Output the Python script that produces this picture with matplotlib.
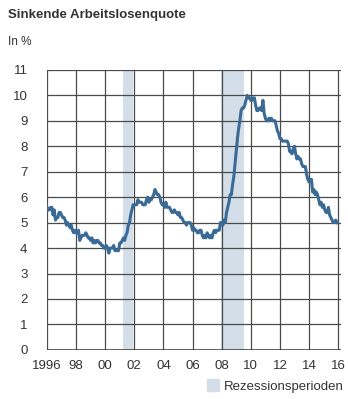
import numpy as np
import matplotlib.pyplot as plt

plt.rcParams['font.family'] = ['Liberation Sans', 'DejaVu Sans']

# monthly unemployment rate, Jan 1996 - Dec 2015
rate = [
    5.6, 5.5, 5.5, 5.6, 5.6, 5.3, 5.5, 5.1, 5.2, 5.2, 5.4, 5.4,
    5.3, 5.2, 5.2, 5.1, 4.9, 5.0, 4.9, 4.8, 4.9, 4.7, 4.6, 4.7,
    4.6, 4.6, 4.7, 4.3, 4.4, 4.5, 4.5, 4.5, 4.6, 4.5, 4.4, 4.4,
    4.3, 4.4, 4.2, 4.3, 4.2, 4.3, 4.3, 4.2, 4.2, 4.1, 4.1, 4.0,
    4.0, 4.1, 4.0, 3.8, 4.0, 4.0, 4.0, 4.1, 3.9, 3.9, 3.9, 3.9,
    4.2, 4.2, 4.3, 4.4, 4.3, 4.5, 4.6, 4.9, 5.0, 5.3, 5.5, 5.7,
    5.7, 5.7, 5.7, 5.9, 5.8, 5.8, 5.8, 5.7, 5.7, 5.7, 5.9, 6.0,
    5.8, 5.9, 5.9, 6.0, 6.1, 6.3, 6.2, 6.1, 6.1, 6.0, 5.8, 5.7,
    5.7, 5.6, 5.8, 5.6, 5.6, 5.6, 5.5, 5.4, 5.4, 5.5, 5.4, 5.4,
    5.3, 5.4, 5.2, 5.2, 5.1, 5.0, 5.0, 4.9, 5.0, 5.0, 5.0, 4.9,
    4.7, 4.8, 4.7, 4.7, 4.6, 4.6, 4.7, 4.7, 4.5, 4.4, 4.5, 4.4,
    4.6, 4.5, 4.4, 4.5, 4.4, 4.6, 4.7, 4.6, 4.7, 4.7, 4.7, 5.0,
    5.0, 4.9, 5.1, 5.0, 5.4, 5.6, 5.8, 6.1, 6.1, 6.5, 6.8, 7.3,
    7.8, 8.3, 8.7, 9.0, 9.4, 9.5, 9.5, 9.6, 9.8, 10.0, 9.9, 9.9,
    9.8, 9.8, 9.9, 9.9, 9.6, 9.4, 9.4, 9.5, 9.5, 9.4, 9.8, 9.3,
    9.1, 9.0, 9.0, 9.1, 9.0, 9.1, 9.0, 9.0, 9.0, 8.8, 8.6, 8.5,
    8.3, 8.3, 8.2, 8.2, 8.2, 8.2, 8.2, 8.1, 7.8, 7.8, 7.7, 7.9,
    8.0, 7.7, 7.5, 7.6, 7.5, 7.5, 7.3, 7.2, 7.2, 7.2, 6.9, 6.7,
    6.6, 6.7, 6.7, 6.2, 6.3, 6.1, 6.2, 6.1, 5.9, 5.7, 5.8, 5.6,
    5.7, 5.5, 5.4, 5.4, 5.6, 5.3, 5.2, 5.1, 5.0, 5.0, 5.1, 5.0,
]
recessions = [(2001.2, 2001.9), (2007.95, 2009.5)]
tick_years = list(range(1996, 2017, 2))
tick_labels = ['1996', '98', '00', '02', '04', '06', '08', '10', '12', '14', '16']

x = 1996 + np.arange(len(rate)) / 12

fig = plt.figure(figsize=(3.48, 3.99), dpi=100)
ax = fig.add_axes([0.135, 0.123, 0.845, 0.702])

for start, end in recessions:
    ax.axvspan(start, end, color='#d3dee8', lw=0, zorder=0)

ax.plot(x, rate, color='#3a6a96', lw=2.2, zorder=3)

ax.set_xlim(1996, 2016.2)
ax.set_ylim(0, 11)
ax.set_yticks(range(0, 12))
ax.set_xticks(tick_years)
ax.set_xticklabels(tick_labels)
ax.grid(True, color='#4a4a4a', lw=0.9, zorder=1)
ax.set_axisbelow(True)
for s in ax.spines.values():
    s.set_visible(False)
ax.axhline(0, color='#3a3a3a', lw=1.1, zorder=1)
ax.tick_params(length=0, labelsize=9.5, colors='#333333', pad=14)
ax.tick_params(axis='x', pad=7)

fig.text(0.023, 0.955, 'Sinkende Arbeitslosenquote', fontsize=9.5,
         fontweight='bold', color='#333333')
fig.text(0.023, 0.887, 'In %', fontsize=8.5, color='#333333')

fig.patches.append(plt.Rectangle((0.595, 0.02), 0.033, 0.03, transform=fig.transFigure,
                                 color='#d3dee8', figure=fig))
fig.text(0.643, 0.022, 'Rezessionsperioden', fontsize=9.5, color='#333333')

fig.savefig('out.png', dpi=100)
